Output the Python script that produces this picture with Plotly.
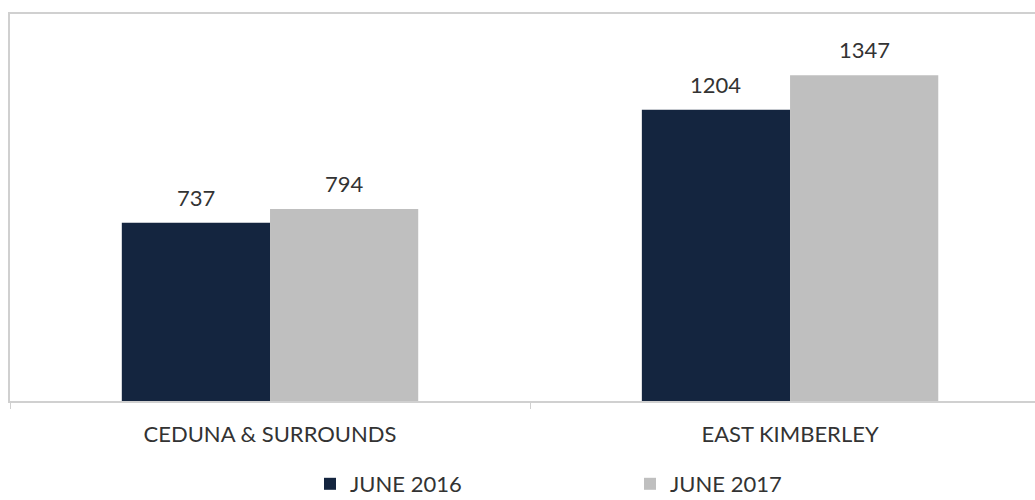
import plotly.graph_objects as go

CATEGORIES = ["CEDUNA & SURROUNDS", "EAST KIMBERLEY"]
SERIES_NAMES = ["JUNE 2016", "JUNE 2017"]
JUNE_2016 = [737, 1204]
JUNE_2017 = [794, 1347]

COLORS = ["#14253f", "#bfbfbf"]
FONT = "Lato"
TEXT_COLOR = "#333333"
BARGAP = 0.43

fig = go.Figure()
for name, vals, color in zip(SERIES_NAMES, [JUNE_2016, JUNE_2017], COLORS):
    fig.add_trace(go.Bar(x=CATEGORIES, y=vals, name=name, marker_color=color,
                         marker_line_width=0))

# value labels above each bar, placed at the bar centre in category units
half = (1 - BARGAP) / 4
for k, vals in enumerate([JUNE_2016, JUNE_2017]):
    for i, v in enumerate(vals):
        fig.add_annotation(x=i + (2 * k - 1) * half, y=v, text=str(v),
                           showarrow=False, yanchor="bottom", yshift=10,
                           font=dict(family=FONT, size=22, color=TEXT_COLOR))

fig.update_layout(
    width=1035, height=500,
    margin=dict(l=10, r=0, t=14, b=99, autoexpand=False),
    paper_bgcolor="white", plot_bgcolor="white",
    barmode="group", bargap=BARGAP, bargroupgap=0,
    font=dict(family=FONT, color=TEXT_COLOR),
    showlegend=True,
    # container-anchored so the legend never pushes the plot area up
    legend=dict(orientation="h", x=0.2927, xanchor="left",
                yref="container", y=0.032, yanchor="middle",
                font=dict(family=FONT, size=22, color=TEXT_COLOR),
                entrywidth=275, entrywidthmode="pixels"),
)
fig.update_xaxes(
    range=[-0.5, 1.471], showline=True, linecolor="#d0d0d0", linewidth=2, mirror=True,
    ticks="outside", tickson="boundaries", ticklen=6, tickcolor="#d0d0d0",
    tickfont=dict(family=FONT, size=22, color=TEXT_COLOR), ticklabelstandoff=13,
    showgrid=False, zeroline=False, automargin=False,
)
fig.update_yaxes(
    range=[0, 1600], showline=True, linecolor="#d0d0d0", linewidth=2,
    showticklabels=False, ticks="", showgrid=False, zeroline=False, automargin=False,
)

# drop the browser's default 8px body margin so the figure fills the window
fig.write_html("out.html", config={"displayModeBar": False},
               post_script="document.body.style.margin = '0';")
